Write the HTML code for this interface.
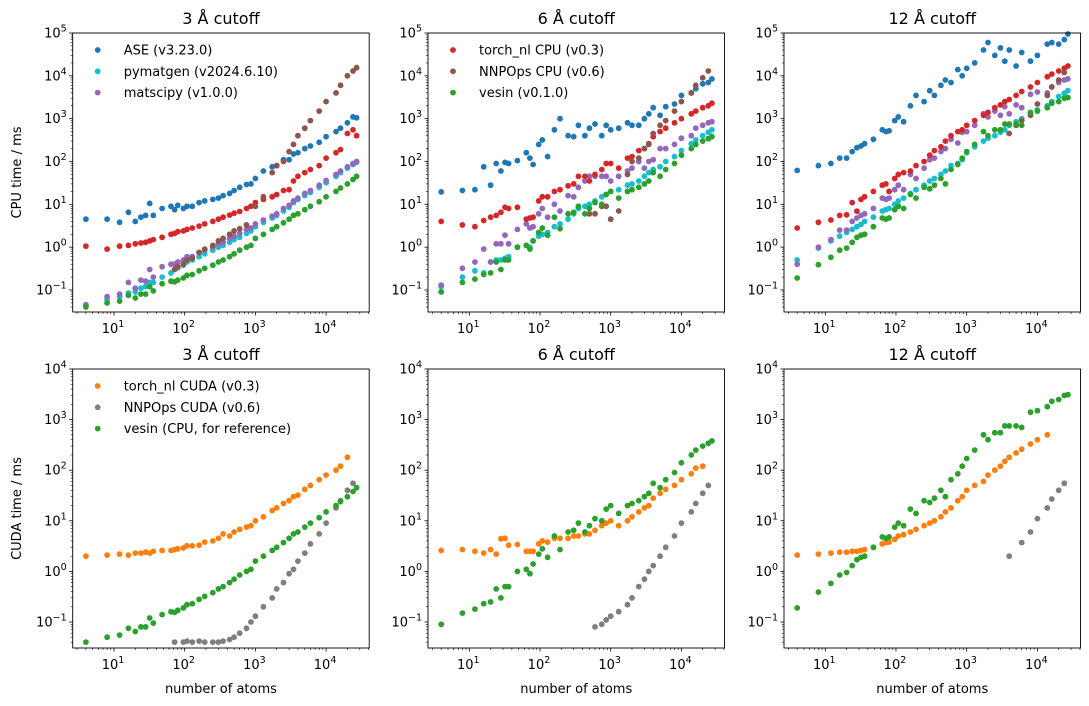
<!DOCTYPE html>
<html><head><meta charset="utf-8"><style>
html,body{margin:0;padding:0;background:#fff}
svg{display:block;font-family:"DejaVu Sans","Liberation Sans",sans-serif}
</style></head><body>
<svg id="fig" width="1089" height="706" viewBox="0 0 1089 706" xmlns="http://www.w3.org/2000/svg"></svg>
<script>
const _ = null;
const atoms = [4,8,12,16,20,24,28,32,36,48,64,72,80,96,108,128,160,192,250,300,350,432,500,600,750,864,1000,1300,1728,2000,2500,3000,3456,4000,5000,6000,8000,10000,13824,16000,20000,24000,27000];
const cutoffs = ["3 Å cutoff","6 Å cutoff","12 Å cutoff"];
const xTicks = [1,2,3,4];
const yTicksCPU = [-1,0,1,2,3,4,5];
const yTicksCUDA = [-1,0,1,2,3,4];

// CPU, 3 Å
const ase3 = [4.5,4.5,3.8,6.5,4,5,5.5,10.5,5.5,8,9,7.5,9.5,8,9,9,11,12,13,14,16,18,21,25,29,30,40,60,75,80,110,110,150,160,200,230,280,380,500,600,800,1100,1050];
const pymatgen3 = [0.045,0.06,0.07,0.085,0.09,0.11,0.12,0.15,0.15,0.2,0.25,0.3,0.33,0.38,0.45,0.5,0.6,0.7,0.85,1.0,1.1,1.3,1.5,1.7,2.1,2.4,3.0,3.8,4.8,5.5,7,8.5,11,13,16,19,25,32,45,55,70,85,95];
const matscipy3 = [0.045,0.07,0.08,0.15,0.11,0.17,0.16,0.3,0.2,0.35,0.4,0.4,0.45,0.5,0.6,0.6,0.75,0.85,1.0,1.2,1.3,1.6,1.8,2.1,2.6,2.8,3.5,4.3,5.3,6,8,9.5,12,14,18,21,28,36,50,60,75,90,100];
const torchCpu3 = [1.05,0.9,1.05,1.1,1.2,1.25,1.3,1.4,1.5,1.7,2,2.1,2.3,2.4,2.6,2.8,3.1,3.5,4,4.5,5,5.6,6.2,6.8,8,9,11,13,15,17,21,22,35,45,55,65,80,120,160,190,450,550,400];
const nnpopsCpu3 = [_,_,_,_,_,_,_,_,_,_,_,0.3,0.35,0.4,0.5,0.55,0.75,0.9,1.1,1.4,1.6,2,2.4,2.7,3.3,_,9,15,55,80,100,170,250,400,600,900,1500,2500,4000,6000,10000,13000,15500];
const vesin3 = [0.04,0.05,0.055,0.075,0.065,0.08,0.08,0.12,0.095,0.14,0.16,0.155,0.17,0.19,0.22,0.23,0.28,0.32,0.38,0.45,0.5,0.6,0.7,0.85,1.0,1.1,1.6,2,2.6,3,3.7,4.5,5.5,6,7.5,9,11.5,15,20,24,30,38,45];
// CPU, 6 Å
const ase6 = [19.5,21,22,75,28,90,60,95,90,105,160,120,85,250,320,130,550,1000,400,380,700,400,600,750,400,700,550,600,800,700,700,1000,1300,1800,1200,1900,2200,3500,4000,5000,6500,7000,8500];
const pymatgen6 = [0.12,0.2,0.28,0.25,0.45,0.5,0.5,0.55,0.6,1,1.1,1,1.4,1.8,2,2.2,3,3.5,4.5,6,8,9,10,12,15,17,20,22,28,30,35,45,55,65,75,100,130,180,260,320,400,480,550];
const matscipy6 = [0.13,0.32,0.45,0.9,0.45,1.2,1.2,1.9,1.2,2.6,3.5,2.8,3,6,8,5,10,7,16,15,25,35,45,45,45,45,35,45,60,70,100,70,100,110,200,200,250,350,400,600,700,800,850];
const torchCpu6 = [4,3.3,3,4.2,5,5.5,6.5,8.5,8,8.5,4.5,4.8,5,12,15,15,20,22,27,30,45,45,35,50,65,90,90,70,120,130,180,200,260,380,500,600,800,1000,1300,1500,1800,2000,2300];
const nnpopsCpu6 = [_,_,_,_,_,_,_,_,_,_,_,_,_,_,_,_,_,_,_,_,_,_,6,6,9,9,4.5,7,50,100,120,200,250,450,700,900,1500,2500,4000,6000,9000,13000,_];
const vesin6 = [0.09,0.15,0.18,0.23,0.25,0.45,0.3,0.5,0.5,1,1.1,0.9,1.4,2.2,2.8,1.9,5,2.7,6,6.5,9,6,8,11,10,17,20,14,20,22,25,30,35,55,45,65,90,140,200,250,300,340,380];
// CPU, 12 Å
const ase12 = [62,80,90,120,120,170,210,230,260,330,550,500,520,900,1100,850,2000,3500,2500,4500,3500,6000,8000,7000,14000,10000,15000,20000,40000,60000,30000,45000,22000,40000,17000,35000,22000,30000,55000,60000,55000,70000,95000];
const pymatgen12 = [0.5,0.95,1.4,1.8,2.2,2.6,3,3.4,4,5,7,7.5,8,10,12,14,18,22,28,35,40,50,60,80,90,110,160,220,300,350,400,480,550,700,850,1000,1300,1600,2000,2500,3300,3900,4500];
const matscipy12 = [0.4,1,1.5,2.5,2.5,4,4.8,5.5,6,8,14,13,14,22,28,22,50,40,70,110,120,170,200,330,270,480,500,700,1300,1100,1500,1200,1900,1300,2100,1800,3700,4200,4000,5500,7000,8000,8500];
const torchCpu12 = [2.8,3.8,4.3,5.5,5.7,11,6.9,13,15,20,28,30,20,40,50,55,60,80,100,140,180,220,300,400,500,550,700,900,1200,1400,1800,2100,2500,2800,3500,4300,5500,7000,9500,11000,13000,15000,17000];
const nnpopsCpu12 = [_,_,_,_,_,_,_,_,_,_,_,_,_,_,_,_,_,_,_,_,_,_,_,_,_,_,_,_,_,_,_,_,_,450,700,900,1200,2200,3500,5500,8000,12000,_];
const vesin12 = [0.19,0.39,0.58,0.85,0.95,1.3,1.7,1.9,2,3,4.8,4.5,4.8,7.5,9,8,17,14,25,23,28,40,30,65,85,120,170,250,500,400,550,550,750,750,750,700,1400,1500,1800,2300,2500,3000,3100];
// CUDA
const torchCuda3 = [2,2.1,2.2,2.1,2.3,2.3,2.4,2.3,2.5,2.6,2.6,2.7,2.8,2.9,3.2,3.2,3.3,3.8,4,4.5,5.5,5,6,6.8,7.5,8,10,12,16,18,22,25,30,32,42,50,65,80,100,120,180,_,_];
const nnpopsCuda3 = [_,_,_,_,_,_,_,_,_,_,_,0.04,_,0.04,0.042,0.04,0.042,0.04,0.04,0.04,0.042,0.045,0.05,0.06,0.075,0.1,0.13,0.2,0.3,0.45,0.6,0.9,1.1,1.6,2.3,3.5,5.5,9,18,25,40,55,_];
const torchCuda6 = [2.6,2.7,2.5,2.3,2.7,2.2,4.4,4.5,3.3,3.4,2.5,2.5,2.5,3.5,4,3.8,4.5,4.5,4.5,5,5,5.5,5.5,6.5,8,9,10,8,10,12,15,18,20,28,35,42,50,65,85,110,120,_,_];
const nnpopsCuda6 = [_,_,_,_,_,_,_,_,_,_,_,_,_,_,_,_,_,_,_,_,_,_,_,0.08,0.09,0.11,0.13,0.16,0.22,0.3,0.5,0.7,1,1.3,2,3,5,9,15,22,35,50,_];
const torchCuda12 = [2.1,2.2,2.3,2.4,2.4,2.5,2.5,2.6,2.7,3,3.5,3.7,3.8,4.3,5,5.3,6,6.8,8,9,10,12,15,18,25,30,40,50,60,80,100,120,150,180,220,260,330,400,500,_,_,_,_];
const nnpopsCuda12 = [_,_,_,_,_,_,_,_,_,_,_,_,_,_,_,_,_,_,_,_,_,_,_,_,_,_,_,_,_,_,_,_,_,2,_,3.7,6,11,18,27,40,55,_];

const C = {blue:"#1f77b4",orange:"#ff7f0e",green:"#2ca02c",red:"#d62728",purple:"#9467bd",brown:"#8c564b",gray:"#7f7f7f",cyan:"#17becf"};
const NS = "http://www.w3.org/2000/svg";
const svg = document.getElementById("fig");
function mk(tag, attrs, parent){const e=document.createElementNS(NS,tag);for(const k in attrs)e.setAttribute(k,attrs[k]);(parent||svg).appendChild(e);return e;}

const panelX = [72.7, 428, 784];
const PW = 296.5;
const XMIN = 0.416, XMAX = 4.61, YMIN = -1.514;
const rows = [
  {top:33, bot:312, ymax:5, ticks:yTicksCPU, ylabel:"CPU time / ms", name:"cpu"},
  {top:369, bot:648, ymax:4, ticks:yTicksCUDA, ylabel:"CUDA time / ms", name:"cuda"}
];
const panels = [
  [ [["ase",ase3,C.blue],["pymatgen",pymatgen3,C.cyan],["matscipy",matscipy3,C.purple],["torch-nl-cpu",torchCpu3,C.red],["nnpops-cpu",nnpopsCpu3,C.brown],["vesin",vesin3,C.green]],
    [["ase",ase6,C.blue],["pymatgen",pymatgen6,C.cyan],["matscipy",matscipy6,C.purple],["torch-nl-cpu",torchCpu6,C.red],["nnpops-cpu",nnpopsCpu6,C.brown],["vesin",vesin6,C.green]],
    [["ase",ase12,C.blue],["pymatgen",pymatgen12,C.cyan],["matscipy",matscipy12,C.purple],["torch-nl-cpu",torchCpu12,C.red],["nnpops-cpu",nnpopsCpu12,C.brown],["vesin",vesin12,C.green]] ],
  [ [["torch-nl-cuda",torchCuda3,C.orange],["nnpops-cuda",nnpopsCuda3,C.gray],["vesin-cpu-ref",vesin3,C.green]],
    [["torch-nl-cuda",torchCuda6,C.orange],["nnpops-cuda",nnpopsCuda6,C.gray],["vesin-cpu-ref",vesin6,C.green]],
    [["torch-nl-cuda",torchCuda12,C.orange],["nnpops-cuda",nnpopsCuda12,C.gray],["vesin-cpu-ref",vesin12,C.green]] ]
];
const legends = [
  [0,0,[["ASE (v3.23.0)",C.blue],["pymatgen (v2024.6.10)",C.cyan],["matscipy (v1.0.0)",C.purple]]],
  [0,1,[["torch_nl CPU (v0.3)",C.red],["NNPOps CPU (v0.6)",C.brown],["vesin (v0.1.0)",C.green]]],
  [1,0,[["torch_nl CUDA (v0.3)",C.orange],["NNPOps CUDA (v0.6)",C.gray],["vesin (CPU, for reference)",C.green]]]
];

function sup(g, x, y, e, anchor){
  const t = mk("text",{x:x,y:y,"font-size":"13","text-anchor":anchor,fill:"#000"},g);
  t.appendChild(document.createTextNode("10"));
  const s = mk("tspan",{dy:"-6","font-size":"9.5"},t);
  s.textContent = e<0 ? "\u2212"+(-e) : String(e);
  return t;
}

rows.forEach((row, ri) => {
  const yScale = v => row.bot - (Math.log10(v)-YMIN)/(row.ymax-YMIN)*(row.bot-row.top);
  panelX.forEach((px, ci) => {
    const xScale = v => px + (Math.log10(v)-XMIN)/(XMAX-XMIN)*PW;
    const g = mk("g",{});
    
    
    const ti = mk("text",{x:px+PW/2,y:row.top-9,"font-size":"16","text-anchor":"middle",fill:"#000"},g);
    ti.textContent = cutoffs[ci];
    
    
    const ya = mk("g",{},g);
    
    
    for(let d=-2; d<row.ymax; d++){
      for(let m=2;m<=9;m++){const v=m*Math.pow(10,d); const lv=Math.log10(v); if(lv<YMIN||lv>row.ymax) continue;
        const y=yScale(v); mk("line",{x1:px-2,x2:px,y1:y,y2:y,stroke:"#000","stroke-width":"0.6"},ya);}
    }
    row.ticks.forEach(e => {
      const y = yScale(Math.pow(10,e));
      mk("line",{x1:px-3.5,x2:px,y1:y,y2:y,stroke:"#000","stroke-width":"0.8"},ya);
      const t = sup(ya, px-6, y+4.5, e, "end");
      
      
    });
    const xa = mk("g",{},g);
    
    
    for(let d=0; d<5; d++){
      for(let m=2;m<=9;m++){const v=m*Math.pow(10,d); const lv=Math.log10(v); if(lv<XMIN||lv>XMAX) continue;
        const x=xScale(v); mk("line",{x1:x,x2:x,y1:row.bot,y2:row.bot+2,stroke:"#000","stroke-width":"0.6"},xa);}
    }
    xTicks.forEach(e => {
      const x = xScale(Math.pow(10,e));
      mk("line",{x1:x,x2:x,y1:row.bot,y2:row.bot+3.5,stroke:"#000","stroke-width":"0.8"},xa);
      const t = sup(xa, x-1, row.bot+21, e, "middle");
      
      
    });
    if(ri===1){
      const xl = mk("text",{x:px+PW/2,y:693,"font-size":"13","text-anchor":"middle",fill:"#000"},g);
      xl.textContent = "number of atoms";
      
      
    }
    panels[ri][ci].forEach(([nm, vals, col]) => {
      const sg = mk("g",{fill:col},g);
      
      
      vals.forEach((v,i) => {
        if(v===null) return;
        const c = mk("circle",{cx:xScale(atoms[i]).toFixed(1),cy:yScale(v).toFixed(1),r:"2.9"},sg);
        
        
      });
    });
    const fr = mk("rect",{x:px,y:row.top,width:PW,height:row.bot-row.top,fill:"none",stroke:"#000","stroke-width":"0.9"},g);
    
    
  });
  const yl = mk("text",{x:0,y:0,"font-size":"13","text-anchor":"middle",fill:"#000",transform:`translate(21,${(row.top+row.bot)/2}) rotate(-90)`});
  yl.textContent = row.ylabel;
  
  
});

legends.forEach(([ri,ci,items]) => {
  const row = rows[ri], px = panelX[ci];
  const lg = mk("g",{});
  
  
  items.forEach(([label,col],k) => {
    const y = row.top + 17 + k*21.3;
    const e = mk("g",{},lg);
    
    
    mk("circle",{cx:px+25,cy:y,r:"2.9",fill:col},e);
    const t = mk("text",{x:px+51,y:y+4.5,"font-size":"13",fill:"#000"},e);
    t.textContent = label;
  });
});
</script>
</body></html>
